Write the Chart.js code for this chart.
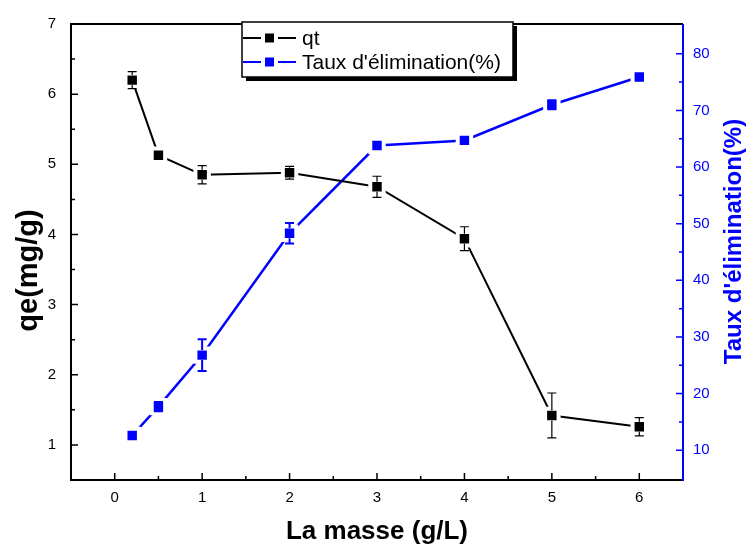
<!DOCTYPE html>
<html>
<head>
<meta charset="utf-8">
<script src="https://cdn.jsdelivr.net/npm/chart.js@4.4.1/dist/chart.umd.min.js"></script>
<style>
  html, body { margin: 0; padding: 0; background: #fff; }
  #wrap { width: 750px; height: 546px; }
</style>
</head>
<body>
<div id="wrap"><canvas id="myChart" width="750" height="546"></canvas></div>
<script>
// adsorbent dose (g/L)
const masse = [0.2, 0.5, 1, 2, 3, 4, 5, 6];
// adsorbed quantity qt (mg/g) with its error
const qt = [6.20, 5.13, 4.85, 4.88, 4.68, 3.94, 1.42, 1.26];
const qtErr = [0.12, 0, 0.13, 0.09, 0.15, 0.17, 0.32, 0.13];
// removal rate (%) with its error
const taux = [12.6, 17.7, 26.8, 48.3, 63.8, 64.7, 71.0, 75.9];
const tauxErr = [0, 0.8, 2.8, 1.8, 0, 0, 0.8, 0];

// tick labels
const xTicks = [0, 1, 2, 3, 4, 5, 6];
const qeTicks = [1, 2, 3, 4, 5, 6, 7];
const tauxTicks = [10, 20, 30, 40, 50, 60, 70, 80];

const BLUE = '#0000ff';
const FONT = 'Arial, "Liberation Sans", sans-serif';

function toPoints(xs, ys) {
	return xs.map((x, i) => ({ x: x, y: ys[i] }));
}

// error bars : whiskers from the caps to the edge of the square marker
const errorBars = {
	id: 'errorBars',
	afterDatasetsDraw(chart) {
		const ctx = chart.ctx;
		const xs = chart.scales.x;
		chart.data.datasets.forEach(ds => {
			const ys = chart.scales[ds.yAxisID];
			ctx.save();
			ctx.strokeStyle = ds.borderColor;
			ctx.lineWidth = ds.errWidth;
			ds.data.forEach((p, i) => {
				const e = ds.err[i];
				if (!e) return;
				const px = xs.getPixelForValue(p.x);
				const py = ys.getPixelForValue(p.y);
				const top = ys.getPixelForValue(p.y + e);
				const bot = ys.getPixelForValue(p.y - e);
				ctx.beginPath();
				if (py - top > 5) {
					ctx.moveTo(px, top); ctx.lineTo(px, py - 5);
					ctx.moveTo(px, bot); ctx.lineTo(px, py + 5);
				}
				ctx.moveTo(px - 4.5, top); ctx.lineTo(px + 4.5, top);
				ctx.moveTo(px - 4.5, bot); ctx.lineTo(px + 4.5, bot);
				ctx.stroke();
			});
			ctx.restore();
		});
	}
};

// rotated title, read bottom to top
function drawVTitle(ctx, text, x, y, color, size) {
	ctx.save();
	ctx.translate(x, y);
	ctx.rotate(-Math.PI / 2);
	ctx.fillStyle = color;
	ctx.font = 'bold ' + size + 'px ' + FONT;
	ctx.textAlign = 'center';
	ctx.textBaseline = 'alphabetic';
	ctx.fillText(text, 0, 0);
	ctx.restore();
}

// axis frame, inward ticks, legend box and the axis titles
const frame = {
	id: 'frame',
	afterDraw(chart) {
		const { ctx, chartArea: a, scales } = chart;
		const xs = scales.x, yl = scales.y, yr = scales.y1;
		ctx.save();
		ctx.lineWidth = 2;
		ctx.strokeStyle = '#000';
		ctx.beginPath();
		ctx.moveTo(a.right, a.top);
		ctx.lineTo(a.left, a.top);
		ctx.lineTo(a.left, a.bottom);
		ctx.lineTo(a.right, a.bottom);
		ctx.stroke();
		ctx.strokeStyle = BLUE;
		ctx.beginPath();
		ctx.moveTo(a.right, a.top);
		ctx.lineTo(a.right, a.bottom + 1);
		ctx.stroke();

		ctx.lineWidth = 1.5;
		ctx.strokeStyle = '#000';
		ctx.beginPath();
		xTicks.forEach(v => {
			let px = xs.getPixelForValue(v);
			ctx.moveTo(px, a.bottom); ctx.lineTo(px, a.bottom - 7);
			if (v < 6) {
				px = xs.getPixelForValue(v + 0.5);
				ctx.moveTo(px, a.bottom); ctx.lineTo(px, a.bottom - 4);
			}
		});
		qeTicks.forEach(v => {
			let py = yl.getPixelForValue(v);
			ctx.moveTo(a.left, py); ctx.lineTo(a.left + 7, py);
			if (v < 7) {
				py = yl.getPixelForValue(v + 0.5);
				ctx.moveTo(a.left, py); ctx.lineTo(a.left + 4, py);
			}
		});
		ctx.stroke();

		ctx.strokeStyle = BLUE;
		ctx.beginPath();
		tauxTicks.forEach(v => {
			let py = yr.getPixelForValue(v);
			ctx.moveTo(a.right, py); ctx.lineTo(a.right - 7, py);
			if (v < 80) {
				py = yr.getPixelForValue(v + 5);
				ctx.moveTo(a.right, py); ctx.lineTo(a.right - 4, py);
			}
		});
		ctx.stroke();

		drawVTitle(ctx, 'qe(mg/g)', 37, 270.5, '#000', 29);
		drawVTitle(ctx, "Taux d'élimination(%)", 741, 241.5, BLUE, 24);

		// legend with drop shadow
		const lx = 242, ly = 22, lw = 271, lh = 55;
		ctx.fillStyle = '#000';
		ctx.fillRect(lx + 4, ly + 4, lw, lh);
		ctx.fillStyle = '#fff';
		ctx.fillRect(lx, ly, lw, lh);
		ctx.lineWidth = 1.5;
		ctx.strokeStyle = '#000';
		ctx.strokeRect(lx, ly, lw, lh);
		ctx.font = '21px ' + FONT;
		ctx.textBaseline = 'middle';
		chart.data.datasets.forEach((ds, i) => {
			const yy = ly + 16 + i * 24;
			ctx.strokeStyle = ds.borderColor;
			ctx.lineWidth = 2;
			ctx.beginPath();
			ctx.moveTo(lx + 1, yy); ctx.lineTo(lx + 19, yy);
			ctx.moveTo(lx + 36, yy); ctx.lineTo(lx + 54, yy);
			ctx.stroke();
			ctx.fillStyle = ds.borderColor;
			ctx.fillRect(lx + 23, yy - 4.5, 9, 9);
			ctx.fillStyle = '#000';
			ctx.fillText(ds.label, lx + 60, yy + 1);
		});
		ctx.restore();
	}
};

const ctx = document.getElementById('myChart').getContext('2d');
const chart = new Chart(ctx, {
	type: 'line',
	data: {
		datasets: [{
			label: 'qt',
			data: toPoints(masse, qt),
			err: qtErr,
			errWidth: 1.2,
			yAxisID: 'y',
			borderColor: '#000',
			backgroundColor: '#000',
			borderWidth: 2,
			pointStyle: 'rect',
			pointRadius: 9.5,
			pointBorderColor: '#fff',
			pointBorderWidth: 4,
			tension: 0
		}, {
			label: "Taux d'élimination(%)",
			data: toPoints(masse, taux),
			err: tauxErr,
			errWidth: 2,
			yAxisID: 'y1',
			borderColor: BLUE,
			backgroundColor: BLUE,
			borderWidth: 2.5,
			pointStyle: 'rect',
			pointRadius: 9.5,
			pointBorderColor: '#fff',
			pointBorderWidth: 4,
			tension: 0
		}]
	},
	options: {
		responsive: false,
		animation: false,
		layout: { padding: { top: 21, left: 0, right: 0, bottom: 0 } },
		plugins: { legend: { display: false }, tooltip: { enabled: false } },
		scales: {
			x: {
				type: 'linear',
				min: -0.5,
				max: 6.5,
				afterBuildTicks: s => { s.ticks = xTicks.map(v => ({ value: v })); },
				afterFit: s => { s.height = 66; },
				grid: { display: false, drawTicks: false },
				border: { display: false },
				ticks: { padding: 9, color: '#000', font: { family: FONT, size: 15 } },
				title: {
					display: true,
					text: 'La masse (g/L)',
					color: '#000',
					font: { family: FONT, size: 26, weight: 'bold', lineHeight: 1.1 },
					padding: { top: 0, bottom: 0 }
				}
			},
			y: {
				type: 'linear',
				position: 'left',
				min: 0.5,
				max: 7,
				afterBuildTicks: s => { s.ticks = qeTicks.map(v => ({ value: v })); },
				afterFit: s => { s.width = 71; },
				grid: { display: false, drawTicks: false },
				border: { display: false },
				ticks: { padding: 15, color: '#000', font: { family: FONT, size: 15 } }
			},
			y1: {
				type: 'linear',
				position: 'right',
				min: 4.75,
				max: 85.25,
				afterBuildTicks: s => { s.ticks = tauxTicks.map(v => ({ value: v })); },
				afterFit: s => { s.width = 67; },
				grid: { display: false, drawTicks: false },
				border: { display: false },
				ticks: { padding: 10, color: BLUE, font: { family: FONT, size: 15 } }
			}
		}
	},
	plugins: [errorBars, frame]
});
</script>
</body>
</html>
